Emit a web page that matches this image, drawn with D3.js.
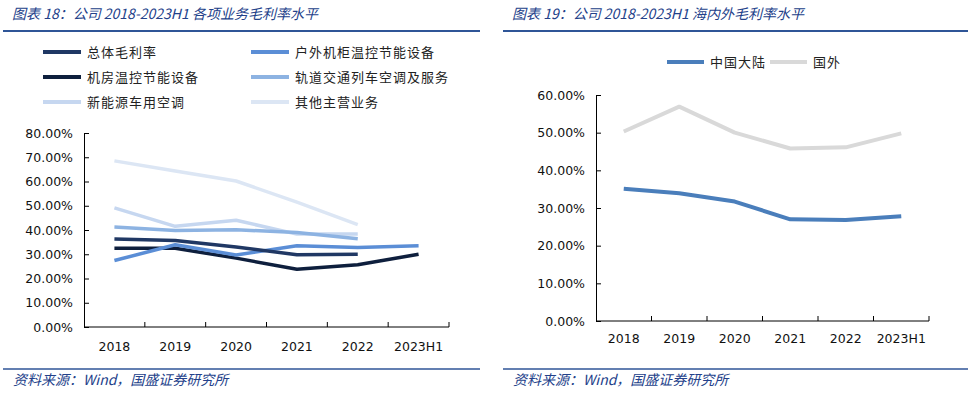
<!DOCTYPE html>
<html>
<head>
<meta charset="utf-8">
<script src="https://cdn.jsdelivr.net/npm/d3@7"></script>
<style>
  body { margin: 0; background: #fff; }
  svg { display: block; }
  .title, .source { font-family: "Noto Sans CJK SC", sans-serif; font-style: italic; fill: #23418a; }
  .tick text, .axlab { font-family: "DejaVu Sans", Verdana, sans-serif; }
  .leg { font-family: "Noto Sans CJK SC", sans-serif; font-size: 13px; fill: #222; letter-spacing: 1px; }
</style>
</head>
<body>
<div id="vis"></div>
<script>
// categories shared by both charts
var years = ['2018', '2019', '2020', '2021', '2022', '2023H1'];
var yTicks = [0, 0.1, 0.2, 0.3, 0.4, 0.5, 0.6, 0.7, 0.8];

// chart 18: gross margin by business line
var total = [0.363, 0.357, 0.330, 0.298, 0.300, null];
var outdoor = [0.274, 0.339, 0.297, 0.335, 0.328, 0.335];
var room = [0.325, 0.325, 0.284, 0.238, 0.257, 0.300];
var rail = [0.412, 0.398, 0.401, 0.390, 0.364, null];
var nev = [0.491, 0.415, 0.440, 0.383, 0.383, null];
var other = [0.685, 0.643, 0.602, 0.515, 0.422, null];

// chart 19: domestic vs overseas
var mainland = [0.351, 0.339, 0.317, 0.270, 0.268, 0.278];
var overseas = [0.503, 0.569, 0.500, 0.458, 0.461, 0.498];

var leftSeries = [
  { name: '总体毛利率', values: total, color: '#203864' },
  { name: '户外机柜温控节能设备', values: outdoor, color: '#5b8ed6' },
  { name: '机房温控节能设备', values: room, color: '#0e1f3d' },
  { name: '轨道交通列车空调及服务', values: rail, color: '#8db3e2' },
  { name: '新能源车用空调', values: nev, color: '#c6d7f0' },
  { name: '其他主营业务', values: other, color: '#dce6f4' }
];
var rightSeries = [
  { name: '中国大陆', values: mainland, color: '#4a7ebb' },
  { name: '国外', values: overseas, color: '#d9d9d9' }
];

let svg = d3.select('#vis')
  .append('svg')
  .attr('width', 975)
  .attr('height', 397);

// title, rules and source for each panel
function frame(x0, x1, title) {
  svg.append('text').attr('class', 'title')
    .attr('x', x0 + 9).attr('y', 19)
    .style('font-size', '14px')
    .text(title);
  svg.append('line')
    .attr('x1', x0).attr('x2', x1).attr('y1', 31).attr('y2', 31)
    .attr('stroke', '#2f5597').attr('stroke-width', 2);
  svg.append('line')
    .attr('x1', x0).attr('x2', x1).attr('y1', 369).attr('y2', 369)
    .attr('stroke', '#2f5597').attr('stroke-width', 1.5);
  svg.append('text').attr('class', 'source')
    .attr('x', x0 + 10).attr('y', 385)
    .style('font-size', '14px')
    .text('资料来源：Wind，国盛证券研究所');
}

function drawChart(opt) {
  let x = d3.scaleBand().domain(years).range([opt.left, opt.right]);
  let y = d3.scaleLinear().domain([0, opt.max]).range([opt.bottom, opt.top]);

  let yAxis = svg.append('g')
    .attr('transform', 'translate(' + opt.left + ',0)')
    .call(d3.axisLeft(y).tickValues(opt.ticks).tickFormat(d3.format('.2%')).tickSizeInner(-5).tickSizeOuter(0).tickPadding(11));
  yAxis.selectAll('text').style('font-size', '12.5px').attr('fill', '#111');

  let xAxis = svg.append('g')
    .attr('transform', 'translate(0,' + opt.bottom + ')')
    .call(d3.axisBottom(x).tickSize(0).tickPadding(opt.xpad));
  xAxis.selectAll('text').style('font-size', '12.5px').attr('fill', '#111');
  xAxis.select('.domain').remove();
  svg.append('line')
    .attr('x1', opt.left).attr('x2', opt.right)
    .attr('y1', opt.bottom).attr('y2', opt.bottom)
    .attr('stroke', '#000');
  // boundary ticks between categories, pointing up
  svg.append('g').selectAll('line')
    .data(years)
    .join('line')
    .attr('x1', d => x(d) + x.bandwidth()).attr('x2', d => x(d) + x.bandwidth())
    .attr('y1', opt.bottom).attr('y2', opt.bottom - 5)
    .attr('stroke', '#000');
  [yAxis, xAxis].forEach(a => a.selectAll('path, line').attr('stroke', '#000'));

  let line = d3.line()
    .defined(d => d != null)
    .x((d, i) => x(years[i]) + x.bandwidth() / 2)
    .y(d => y(d));

  // draw lightest series first so dark ones sit on top
  opt.series.slice().reverse().forEach(function(s) {
    svg.append('path')
      .attr('d', line(s.values))
      .attr('fill', 'none')
      .attr('stroke', s.color)
      .attr('stroke-width', opt.lw)
      .attr('stroke-linejoin', 'round');
  });
}

frame(3, 480, '图表 18：公司 2018-2023H1 各项业务毛利率水平');
frame(503, 968, '图表 19：公司 2018-2023H1 海内外毛利率水平');

drawChart({ left: 84, right: 449, top: 133, bottom: 327, max: 0.8, ticks: yTicks,
  series: leftSeries, lw: 3.5, xpad: 15 });
drawChart({ left: 596, right: 929, top: 95, bottom: 321, max: 0.6, ticks: yTicks.slice(0, 7),
  series: rightSeries, lw: 4, xpad: 13 });

// legend, chart 18 (two columns)
leftSeries.forEach(function(s, i) {
  let lx = i % 2 == 0 ? 43 : 251;
  let ly = 52 + Math.floor(i / 2) * 25;
  svg.append('line').attr('x1', lx).attr('x2', lx + 38).attr('y1', ly).attr('y2', ly)
    .attr('stroke', s.color).attr('stroke-width', 4);
  svg.append('text').attr('class', 'leg').attr('x', lx + 44).attr('y', ly + 5).text(s.name);
});

// legend, chart 19 (one row)
let lx = 667;
rightSeries.forEach(function(s) {
  svg.append('line').attr('x1', lx).attr('x2', lx + 37).attr('y1', 62).attr('y2', 62)
    .attr('stroke', s.color).attr('stroke-width', 4);
  let t = svg.append('text').attr('class', 'leg').attr('x', lx + 43).attr('y', 67).text(s.name);
  lx += 43 + t.node().getComputedTextLength() + 4;
});
</script>
</body>
</html>
